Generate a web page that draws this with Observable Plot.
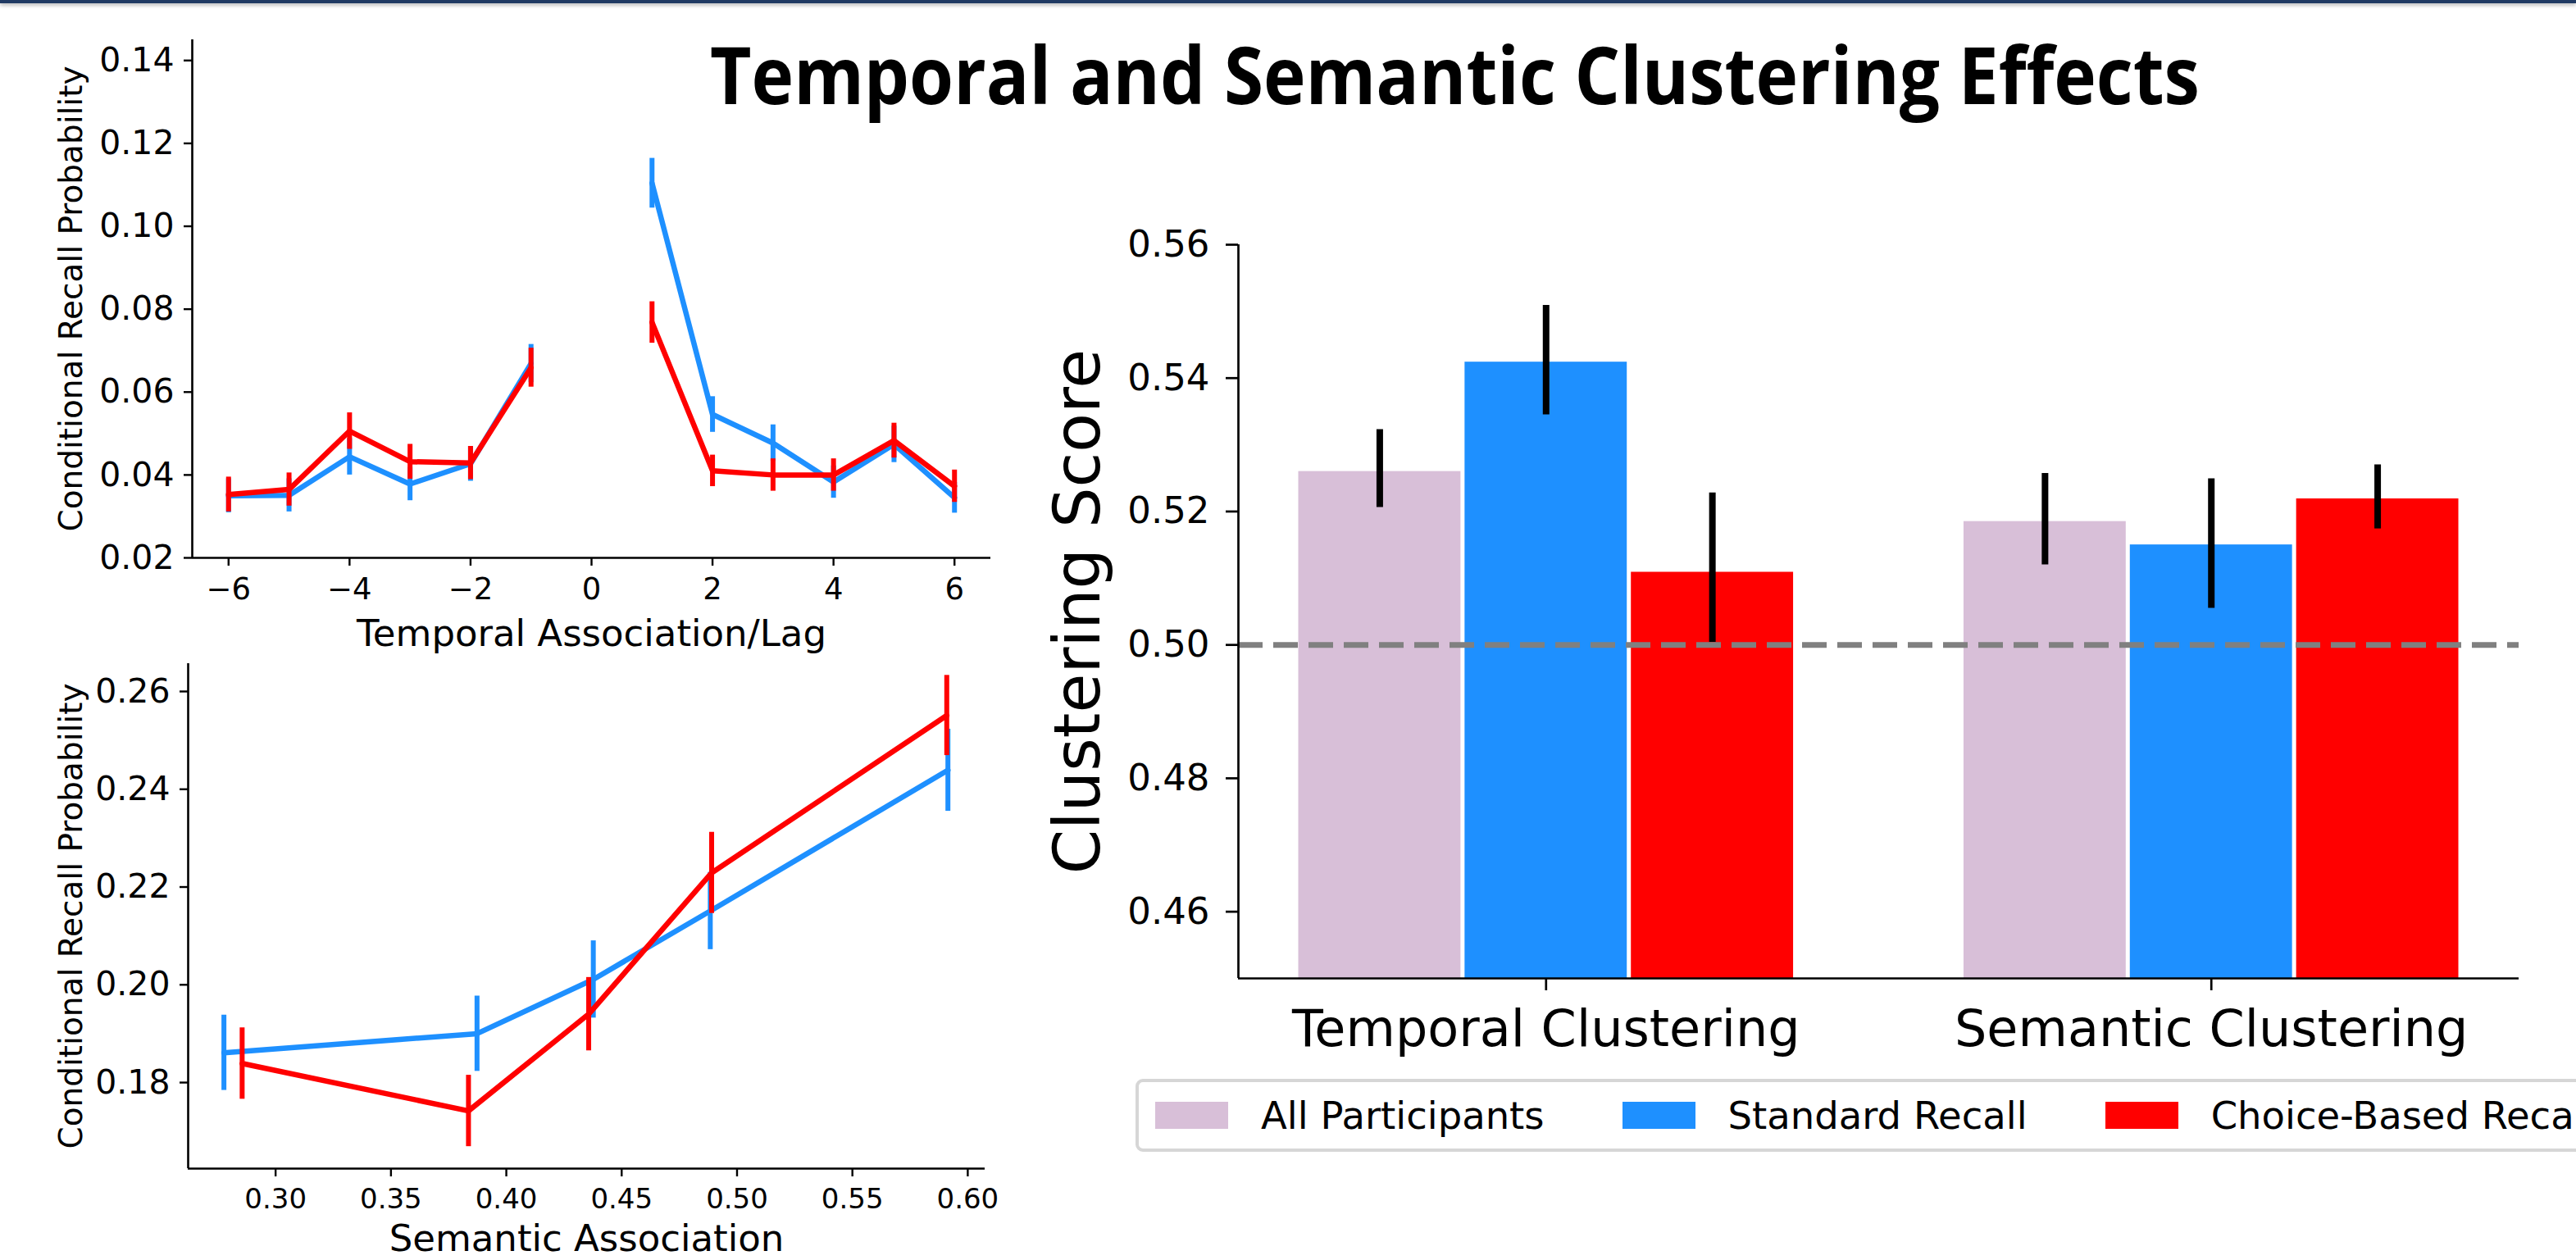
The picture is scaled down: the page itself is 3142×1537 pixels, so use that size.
<!DOCTYPE html>
<html>
<head>
<meta charset="utf-8">
<script src="https://cdn.jsdelivr.net/npm/d3@7"></script>
<script src="https://cdn.jsdelivr.net/npm/@observablehq/plot@0.6"></script>
<style>
  html, body { margin: 0; padding: 0; background: #fff; }
  body { width: 3142px; height: 1537px; overflow: hidden; position: relative; font-family: "DejaVu Sans", sans-serif; color: #000; }
  .abs { position: absolute; }
  #topbar { left: 0; top: 0; width: 3142px; height: 4px; background: #203a63; box-shadow: 0 2px 5px rgba(0,0,0,0.35); }
  #legend { left: 1385px; top: 1316px; width: 1900px; height: 81px; border: 4px solid #d6d6d6; border-radius: 9px; background: #fff;
            display: flex; align-items: center; padding-left: 20px; box-sizing: content-box; }
  .item { display: flex; align-items: center; margin-right: 95px; }
  .patch { width: 89px; height: 33px; margin-right: 40px; }
  .lab { font-size: 46.5px; white-space: nowrap; font-family: "DejaVu Sans", sans-serif; }
</style>
</head>
<body>
<div id="topbar" class="abs"></div>
<div id="lag" class="abs" style="left:0;top:0"></div>
<div id="sem" class="abs" style="left:0;top:790px"></div>
<div id="bars" class="abs" style="left:1250px;top:200px"></div>
<svg id="title" class="abs" style="left:0;top:0" width="3142" height="170"></svg>
<div id="legend" class="abs"></div>
<script>
// ---------------- DATA ----------------
const titleText = "Temporal and Semantic Clustering Effects";

// Temporal (lag) conditional response probability
const lags = [-6, -5, -4, -3, -2, -1, 1, 2, 3, 4, 5, 6];
const lagStandard    = [0.0350, 0.0351, 0.0444, 0.0378, 0.0427, 0.0669, 0.1104, 0.0546, 0.0477, 0.0383, 0.0474, 0.0345];
const lagStandardErr = [0.0041, 0.0040, 0.0044, 0.0040, 0.0042, 0.0046, 0.0060, 0.0043, 0.0044, 0.0039, 0.0044, 0.0037];
const lagChoice      = [0.0353, 0.0365, 0.0506, 0.0432, 0.0429, 0.0659, 0.0768, 0.0410, 0.0400, 0.0400, 0.0483, 0.0373];
const lagChoiceErr   = [0.0042, 0.0040, 0.0044, 0.0042, 0.0040, 0.0047, 0.0050, 0.0038, 0.0039, 0.0039, 0.0042, 0.0039];
const lagXTicks = [-6, -4, -2, 0, 2, 4, 6];
const lagYTicks = [0.02, 0.04, 0.06, 0.08, 0.10, 0.12, 0.14];
const lagXDomain = [-6.6, 6.6];
const lagYDomain = [0.02, 0.145];

// Semantic association conditional response probability
const semStandardX   = [0.2776, 0.3873, 0.4377, 0.4884, 0.5914];
const semStandardY   = [0.1861, 0.1900, 0.2011, 0.2151, 0.2439];
const semStandardErr = [0.0077, 0.0077, 0.0079, 0.0079, 0.0084];
const semChoiceX     = [0.2855, 0.3836, 0.4357, 0.4890, 0.5909];
const semChoiceY     = [0.1839, 0.1742, 0.1940, 0.2229, 0.2551];
const semChoiceErr   = [0.0073, 0.0073, 0.0075, 0.0083, 0.0082];
const semXTicks = [0.30, 0.35, 0.40, 0.45, 0.50, 0.55, 0.60];
const semYTicks = [0.18, 0.20, 0.22, 0.24, 0.26];
const semXDomain = [0.2621, 0.6075];
const semYDomain = [0.1624, 0.2657];

// Clustering scores (bars)
const groups = ["Temporal Clustering", "Semantic Clustering"];
const seriesNames = ["All Participants", "Standard Recall", "Choice-Based Recall"];
const barColors = ["#D8BFD8", "#1E90FF", "#FF0000"];
const barValues = [[0.5260, 0.5424, 0.5109], [0.5185, 0.5150, 0.5219]];
const barLow    = [[0.5206, 0.5345, 0.5004], [0.5120, 0.5055, 0.5174]];
const barHigh   = [[0.5323, 0.5509, 0.5228], [0.5257, 0.5249, 0.5270]];
const barYTicks = [0.46, 0.48, 0.50, 0.52, 0.54, 0.56];
const barYDomain = [0.45, 0.56];
const barXDomain = [-0.4625, 1.4625];
const barWidth = 0.25;
const chanceLevel = [0.50];

const lineColors = {"Standard Recall": "#1E90FF", "Choice-Based Recall": "#FF0000"};

// ---------------- BUILD ROWS ----------------
function lagRows(series, vals, errs) {
  return lags.map((lag, i) => ({series, lag, side: lag < 0 ? "neg" : "pos", y: vals[i], lo: vals[i] - errs[i], hi: vals[i] + errs[i]}));
}
function semRows(series, xs, ys, errs) {
  return xs.map((x, i) => ({series, x, y: ys[i], lo: ys[i] - errs[i], hi: ys[i] + errs[i]}));
}
const lagBlue = lagRows("Standard Recall", lagStandard, lagStandardErr);
const lagRed  = lagRows("Choice-Based Recall", lagChoice, lagChoiceErr);
const semBlue = semRows("Standard Recall", semStandardX, semStandardY, semStandardErr);
const semRed  = semRows("Choice-Based Recall", semChoiceX, semChoiceY, semChoiceErr);

const barRows = [];
groups.forEach((g, gi) => seriesNames.forEach((s, si) => {
  barRows.push({group: g, series: s, pos: gi + (si - 1) * barWidth, value: barValues[gi][si], lo: barLow[gi][si], hi: barHigh[gi][si]});
}));

const baseStyle = {background: "transparent", fontFamily: "DejaVu Sans", color: "black", overflow: "visible"};
const f2 = d3.format(".2f");
const yLabelOpts = (dx, fontSize) => ({frameAnchor: "left", rotate: -90, dx, fontSize, fill: "black", textAnchor: "middle", lineAnchor: "middle"});
const xLabelOpts = (dy, fontSize) => ({frameAnchor: "bottom", dy, fontSize, fill: "black", textAnchor: "middle", lineAnchor: "middle"});

// ---------------- TOP-LEFT: lag CRP ----------------
const lagPlot = Plot.plot({
  width: 1250, height: 790,
  marginTop: 48, marginRight: 42, marginBottom: 110, marginLeft: 234,
  style: baseStyle,
  x: {domain: lagXDomain},
  y: {domain: lagYDomain},
  marks: [
    Plot.ruleX([lagXDomain[0]], {stroke: "black", strokeWidth: 2.6}),
    Plot.ruleY([lagYDomain[0]], {stroke: "black", strokeWidth: 2.6}),
    Plot.axisY({ticks: lagYTicks, tickSize: 10, tickPadding: 12, fontSize: 41, tickFormat: f2, label: null, strokeWidth: 2.4}),
    Plot.axisX({ticks: lagXTicks, tickSize: 10, tickPadding: 14, fontSize: 37, tickFormat: d3.format("d"), label: null, strokeWidth: 2.4}),
    Plot.line(lagBlue, {x: "lag", y: "y", z: "side", stroke: lineColors["Standard Recall"], strokeWidth: 6.5, strokeLinejoin: "round"}),
    Plot.ruleX(lagBlue, {x: "lag", y1: "lo", y2: "hi", stroke: lineColors["Standard Recall"], strokeWidth: 6}),
    Plot.line(lagRed, {x: "lag", y: "y", z: "side", stroke: lineColors["Choice-Based Recall"], strokeWidth: 6.5, strokeLinejoin: "round"}),
    Plot.ruleX(lagRed, {x: "lag", y1: "lo", y2: "hi", stroke: lineColors["Choice-Based Recall"], strokeWidth: 6}),
    Plot.text(["Conditional Recall Probability"], yLabelOpts(-146.5, 39)),
    Plot.text(["Temporal Association/Lag"], xLabelOpts(93, 45))
  ]
});
document.getElementById("lag").appendChild(lagPlot);

// ---------------- BOTTOM-LEFT: semantic CRP ----------------
const semPlot = Plot.plot({
  width: 1250, height: 747,
  marginTop: 19, marginRight: 49, marginBottom: 112, marginLeft: 229,
  style: baseStyle,
  x: {domain: semXDomain},
  y: {domain: semYDomain},
  marks: [
    Plot.ruleX([semXDomain[0]], {stroke: "black", strokeWidth: 2.6}),
    Plot.ruleY([semYDomain[0]], {stroke: "black", strokeWidth: 2.6}),
    Plot.axisY({ticks: semYTicks, tickSize: 10, tickPadding: 12, fontSize: 41, tickFormat: f2, label: null, strokeWidth: 2.4}),
    Plot.axisX({ticks: semXTicks, tickSize: 10, tickPadding: 14, fontSize: 34, tickFormat: f2, label: null, strokeWidth: 2.4}),
    Plot.line(semBlue, {x: "x", y: "y", stroke: lineColors["Standard Recall"], strokeWidth: 6.5, strokeLinejoin: "round"}),
    Plot.ruleX(semBlue, {x: "x", y1: "lo", y2: "hi", stroke: lineColors["Standard Recall"], strokeWidth: 6}),
    Plot.line(semRed, {x: "x", y: "y", stroke: lineColors["Choice-Based Recall"], strokeWidth: 6.5, strokeLinejoin: "round"}),
    Plot.ruleX(semRed, {x: "x", y1: "lo", y2: "hi", stroke: lineColors["Choice-Based Recall"], strokeWidth: 6}),
    Plot.text(["Conditional Recall Probability"], yLabelOpts(-141.5, 39)),
    Plot.text(["Semantic Association"], xLabelOpts(86, 45))
  ]
});
document.getElementById("sem").appendChild(semPlot);

// ---------------- RIGHT: clustering score bars ----------------
const barPlot = Plot.plot({
  width: 1892, height: 1100,
  marginTop: 98, marginRight: 70, marginBottom: 107, marginLeft: 260,
  style: baseStyle,
  x: {domain: barXDomain},
  y: {domain: barYDomain},
  color: {domain: seriesNames, range: barColors},
  marks: [
    Plot.rect(barRows, {x1: d => d.pos - barWidth / 2, x2: d => d.pos + barWidth / 2, y1: 0, y2: "value", fill: "series", insetLeft: 2.5, insetRight: 2.5, clip: true}),
    Plot.ruleX(barRows, {x: "pos", y1: "lo", y2: "hi", stroke: "black", strokeWidth: 8}),
    Plot.ruleY(chanceLevel, {stroke: "#808080", strokeWidth: 7, strokeDasharray: "30,13"}),
    Plot.ruleX([barXDomain[0]], {stroke: "black", strokeWidth: 2.7}),
    Plot.ruleY([barYDomain[0]], {stroke: "black", strokeWidth: 2.7}),
    Plot.axisY({ticks: barYTicks, tickSize: 15, tickPadding: 20, fontSize: 45, tickFormat: f2, label: null, strokeWidth: 2.7}),
    Plot.axisX({ticks: groups.map((g, i) => i), tickSize: 15, tickPadding: 23, fontSize: 62, tickFormat: i => groups[i], label: null, strokeWidth: 2.7}),
    Plot.text(["Clustering Score"], yLabelOpts(-194, 78))
  ]
});
document.getElementById("bars").appendChild(barPlot);

// ---------------- TITLE ----------------
const svgNS = "http://www.w3.org/2000/svg";
const t = document.createElementNS(svgNS, "text");
t.setAttribute("x", 866);
t.setAttribute("y", 126.7);
t.setAttribute("textLength", 1817);
t.setAttribute("lengthAdjust", "spacingAndGlyphs");
t.setAttribute("font-family", "Open Sans, Lato, sans-serif");
t.setAttribute("font-weight", "700");
t.setAttribute("font-size", 96);
t.setAttribute("fill", "#000");
t.textContent = titleText;
document.getElementById("title").appendChild(t);

// ---------------- LEGEND ----------------
const legend = document.getElementById("legend");
seriesNames.forEach((s, i) => {
  const item = document.createElement("div");
  item.className = "item";
  const p = document.createElement("div");
  p.className = "patch";
  p.style.background = barColors[i];
  const l = document.createElement("span");
  l.className = "lab";
  l.textContent = s;
  item.appendChild(p);
  item.appendChild(l);
  legend.appendChild(item);
});
</script>
</body>
</html>
